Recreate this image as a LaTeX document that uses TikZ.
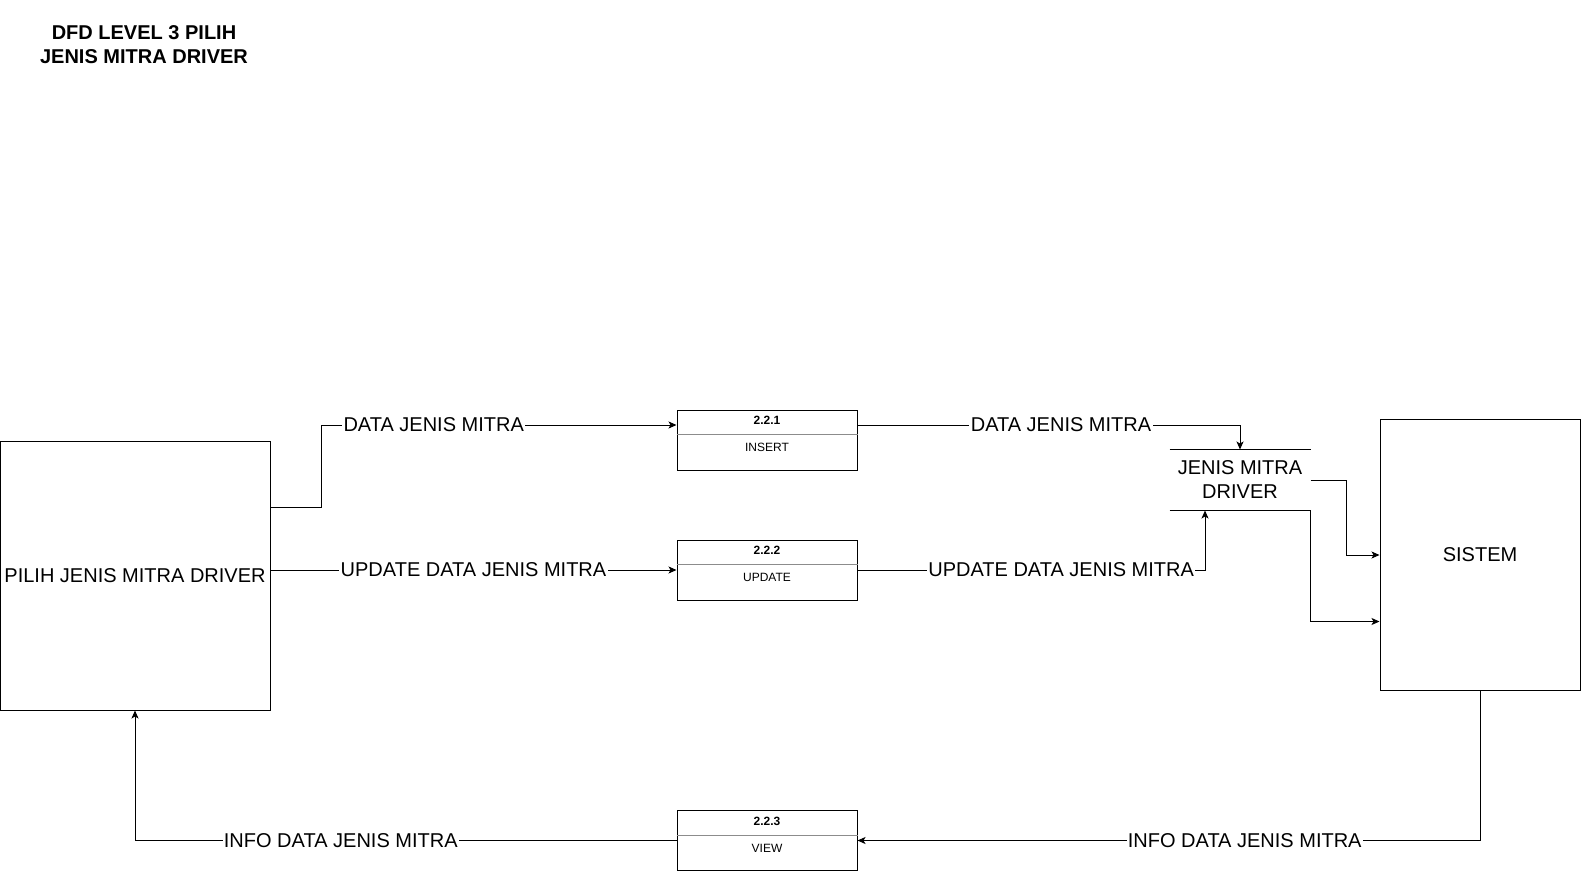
\documentclass[tikz,border=0pt]{standalone}
\usepackage{fontspec}
\setmainfont{Liberation Sans}
\usepackage{tikz}
\usetikzlibrary{arrows, arrows.meta, calc}
\newlength{\px}
\setlength{\px}{0.75pt}
\newcommand{\bigtext}{\fontsize{15}{18}\selectfont}
\newcommand{\smalltext}{\fontsize{9}{11}\selectfont}
\tikzset{entity/.style = {shape=rectangle,draw,inner sep=1pt,font=\bigtext}}
\tikzset{proc/.style = {shape=rectangle,draw,minimum width=180\px,minimum height=60\px,inner sep=0pt}}
\tikzset{procid/.style = {font=\smalltext\bfseries,inner sep=0pt}}
\tikzset{proctext/.style = {font=\smalltext,inner sep=0pt}}
\tikzset{divider/.style = {draw=black!45}}
\tikzset{store/.style = {shape=rectangle,minimum width=140\px,minimum height=60\px,align=center,font=\bigtext,inner sep=0pt}}
\tikzset{flow/.style = {fill=white,inner sep=1pt,text depth=0pt,font=\bigtext}}
\tikzset{edge/.style = {->,> = {Stealth[length=6pt,width=5.25pt,inset=1.5pt]}}}

\begin{document}
\begin{tikzpicture}[x=\px,y=-\px,line width=0.75pt]
                \useasboundingbox (0,0) rectangle (1581,871);
                \node[font=\bigtext\bfseries,align=center] (judul) at (144,45) {DFD LEVEL 3 PILIH\\JENIS MITRA DRIVER};
                \node[entity,minimum width=270\px,minimum height=269\px] (pilih) at (135,575.5) {PILIH JENIS MITRA DRIVER};
                \node[entity,minimum width=200\px,minimum height=271\px] (sistem) at (1480,554.5) {SISTEM};
                \node[store] (jenis) at (1240,480) {JENIS MITRA\\DRIVER};
                \draw (jenis.north west) -- (jenis.north east);
                \draw (jenis.south west) -- (jenis.south east);
                \node[proc] (insert) at (767,440) {};
                \draw[divider] ($(insert.north west)+(0,25)$) -- ($(insert.north east)+(0,25)$);
                \node[procid] (insertid) at ($(insert.north)+(0,11)$) {2.2.1};
                \node[proctext] (inserttext) at ($(insert.north)+(0,38)$) {INSERT};
                \node[proc] (update) at (767,570) {};
                \draw[divider] ($(update.north west)+(0,25)$) -- ($(update.north east)+(0,25)$);
                \node[procid] (updateid) at ($(update.north)+(0,11)$) {2.2.2};
                \node[proctext] (updatetext) at ($(update.north)+(0,38)$) {UPDATE};
                \node[proc] (view) at (767,840.5) {};
                \draw[divider] ($(view.north west)+(0,25)$) -- ($(view.north east)+(0,25)$);
                \node[procid] (viewid) at ($(view.north)+(0,11)$) {2.2.3};
                \node[proctext] (viewtext) at ($(view.north)+(0,38)$) {VIEW};
                \coordinate (k1) at (321,425);
                \coordinate (k2) at (1346,555);
                \draw[edge] (pilih.east |- 0,507) -| (k1) -- (insert.west |- k1) node [flow, pos=0.317] {DATA JENIS MITRA};
                \draw[edge] (insert.east |- k1) -| (jenis.north) node [flow, pos=0.266] {DATA JENIS MITRA};
                \draw[edge] (pilih.east |- update.west) -- (update.west) node [flow, midway] {UPDATE DATA JENIS MITRA};
                \draw[edge] (update.east) -| ($(jenis.south)+(-35,0)$) node [flow, pos=0.293] {UPDATE DATA JENIS MITRA};
                \draw[edge] (jenis.east) -| (k2) -- (sistem.west |- k2);
                \draw[edge] (jenis.south east) |- ($(sistem.west)+(0,67)$);
                \draw[edge] (sistem.south) |- (view.east) node [flow, pos=0.689] {INFO DATA JENIS MITRA};
                \draw[edge] (view.west) -| (pilih.south) node [flow, pos=0.31] {INFO DATA JENIS MITRA};
            \end{tikzpicture}
\end{document}
